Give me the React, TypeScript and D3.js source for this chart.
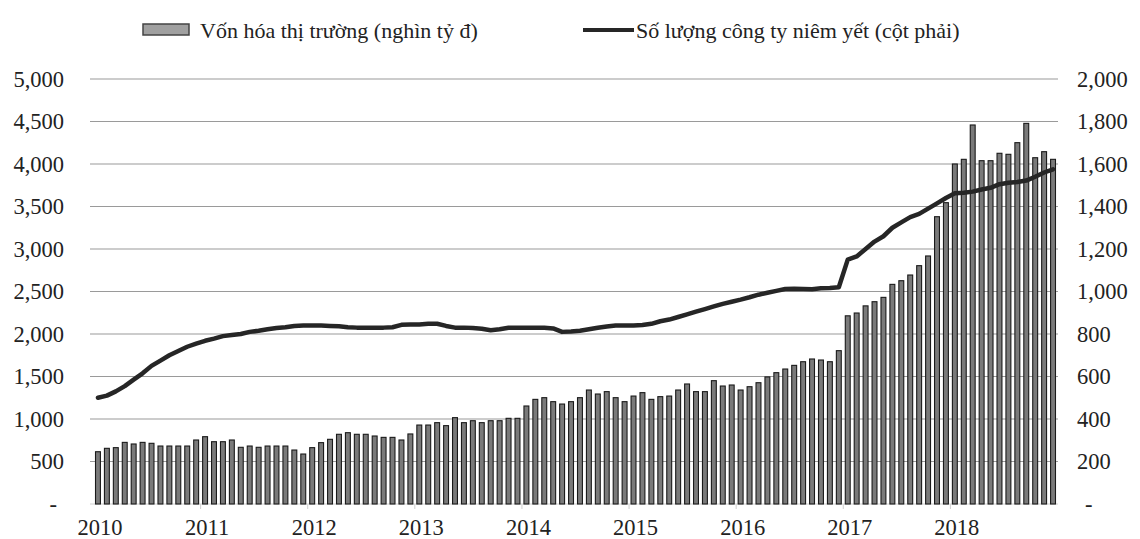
import React, { useEffect, useRef } from 'react'
import * as d3 from 'd3'

const years = ['2010', '2011', '2012', '2013', '2014', '2015', '2016', '2017', '2018']
const months = years.flatMap((y) => d3.range(1, 13).map((m) => `${y}-${m}`))

// Vốn hóa thị trường (nghìn tỷ đ), theo tháng
const marketCap = [
  615, 655, 663, 725, 706, 725, 714, 682, 682, 682, 682, 753,
  792, 733, 733, 753, 667, 682, 667, 682, 682, 682, 635, 588,
  663, 722, 761, 820, 839, 820, 820, 800, 784, 784, 753, 824,
  929, 929, 957, 922, 1016, 957, 980, 957, 980, 980, 1008, 1008,
  1153, 1231, 1251, 1204, 1176, 1204, 1251, 1341, 1294, 1322, 1251, 1204,
  1270, 1310, 1231, 1263, 1270, 1341, 1412, 1322, 1322, 1451, 1388, 1400,
  1341, 1380, 1427, 1495, 1545, 1588, 1631, 1674, 1706, 1694, 1674, 1804,
  2214, 2247, 2331, 2380, 2431, 2584, 2627, 2694, 2804, 2918, 3380, 3545,
  4000, 4055, 4459, 4039, 4039, 4126, 4114, 4251, 4478, 4074, 4145, 4055,
]

// Số lượng công ty niêm yết (cột phải)
const listedCompanies = [
  500, 510, 530, 555, 585, 615, 650, 675, 700, 720, 740, 755,
  768, 778, 790, 795, 800, 810, 815, 822, 828, 832, 838, 840,
  840, 840, 838, 836, 832, 830, 830, 830, 830, 832, 843, 845,
  845, 848, 848, 838, 830, 830, 828, 825, 818, 822, 829, 829,
  829, 829, 829, 826, 810, 812, 815, 822, 829, 835, 840, 840,
  840, 842, 848, 860, 868, 880, 892, 905, 917, 930, 942, 952,
  962, 973, 985, 994, 1003, 1012, 1013, 1012, 1011, 1015, 1016, 1020,
  1150, 1165, 1200, 1235, 1260, 1300, 1325, 1350, 1365, 1390, 1415, 1440,
  1462, 1465, 1470, 1480, 1488, 1505, 1512, 1515, 1522, 1540, 1560, 1575,
]

const leftTicks = [0, 500, 1000, 1500, 2000, 2500, 3000, 3500, 4000, 4500, 5000]
const rightTicks = [0, 200, 400, 600, 800, 1000, 1200, 1400, 1600, 1800, 2000]
const barLabel = 'Vốn hóa thị trường (nghìn tỷ đ)'
const lineLabel = 'Số lượng công ty niêm yết (cột phải)'

const App = () => {
  const svgRef = useRef<SVGSVGElement>(null)

  useEffect(() => {
    const width = 1140
    const height = 539
    const font = '"Liberation Serif", "Times New Roman", serif'
    const svg = d3.select(svgRef.current).attr('width', width).attr('height', height)
    svg.selectAll('*').remove()

    const x = d3.scaleBand().domain(months).range([93.5, 1057.5]).paddingInner(0.45).paddingOuter(0.225)
    const yLeft = d3.scaleLinear().domain([0, 5000]).range([504, 79])
    const yRight = d3.scaleLinear().domain([0, 2000]).range([504, 79])
    const cx = (m: string) => (x(m) as number) + x.bandwidth() / 2
    const fmt = (d: number) => (d === 0 ? '-' : d3.format(',')(d))

    svg.append('rect').attr('width', width).attr('height', height).attr('fill', '#fff')

    // lưới ngang
    svg
      .append('g')
      .selectAll('line')
      .data(leftTicks.slice(1))
      .enter()
      .append('line')
      .attr('x1', 90)
      .attr('x2', 1058)
      .attr('y1', (d) => yLeft(d))
      .attr('y2', (d) => yLeft(d))
      .attr('stroke', '#9a9a9a')
      .attr('stroke-width', 1.2)

    // trục hoành
    svg.append('line').attr('x1', 90).attr('x2', 1058).attr('y1', yLeft(0)).attr('y2', yLeft(0))
      .attr('stroke', '#d0d0d0').attr('stroke-width', 1)
    svg
      .append('g')
      .selectAll('line')
      .data(years.slice(1))
      .enter()
      .append('line')
      .attr('x1', (d) => (x(`${d}-1`) as number) - (x.step() - x.bandwidth()) / 2)
      .attr('x2', (d) => (x(`${d}-1`) as number) - (x.step() - x.bandwidth()) / 2)
      .attr('y1', yLeft(0))
      .attr('y2', yLeft(0) + 5)
      .attr('stroke', '#d0d0d0')

    // cột
    svg
      .append('g')
      .selectAll('rect')
      .data(marketCap)
      .enter()
      .append('rect')
      .attr('x', (d, i) => x(months[i]) as number)
      .attr('width', x.bandwidth())
      .attr('y', (d) => yLeft(d))
      .attr('height', (d) => yLeft(0) - yLeft(d))
      .attr('fill', '#7a7a7a')
      .attr('stroke', '#1a1a1a')
      .attr('stroke-width', 1.1)

    // đường
    const line = d3
      .line<number>()
      .x((d, i) => cx(months[i]))
      .y((d) => yRight(d))
    svg
      .append('path')
      .datum(listedCompanies)
      .attr('d', line)
      .attr('fill', 'none')
      .attr('stroke', '#262626')
      .attr('stroke-width', 4.5)
      .attr('stroke-linejoin', 'round')
      .attr('stroke-linecap', 'round')

    // nhãn trục trái
    svg
      .append('g')
      .selectAll('text')
      .data(leftTicks)
      .enter()
      .append('text')
      .attr('x', (d) => (d === 0 ? 57 : 64))
      .attr('y', (d) => yLeft(d))
      .attr('dy', '0.35em')
      .attr('text-anchor', 'end')
      .style('font-family', font)
      .style('font-size', '22.5px')
      .attr('fill', '#222')
      .text(fmt)

    // nhãn trục phải
    svg
      .append('g')
      .selectAll('text')
      .data(rightTicks)
      .enter()
      .append('text')
      .attr('x', (d) => (d === 0 ? 1085 : 1077))
      .attr('y', (d) => yRight(d))
      .attr('dy', '0.35em')
      .attr('text-anchor', 'start')
      .style('font-family', font)
      .style('font-size', '22.5px')
      .attr('fill', '#222')
      .text(fmt)

    // nhãn năm
    svg
      .append('g')
      .selectAll('text')
      .data(years)
      .enter()
      .append('text')
      .attr('x', (d) => cx(`${d}-1`) + 2)
      .attr('y', 535)
      .attr('text-anchor', 'middle')
      .style('font-family', font)
      .style('font-size', '22.5px')
      .attr('fill', '#222')
      .text((d) => d)

    // chú thích
    const legend = svg.append('g')
    legend.append('rect').attr('x', 143).attr('y', 24).attr('width', 46).attr('height', 11)
      .attr('fill', '#a0a0a0').attr('stroke', '#444').attr('stroke-width', 1.5)
    legend.append('text').attr('x', 200).attr('y', 30).attr('dy', '0.35em')
      .style('font-family', font).style('font-size', '22px').attr('fill', '#222').text(barLabel)
    legend.append('line').attr('x1', 583).attr('x2', 634).attr('y1', 30).attr('y2', 30)
      .attr('stroke', '#262626').attr('stroke-width', 4)
    legend.append('text').attr('x', 636).attr('y', 30).attr('dy', '0.35em')
      .style('font-family', font).style('font-size', '22px').attr('fill', '#222').text(lineLabel)
  }, [])

  return (
    <div style={{ position: 'absolute', left: 0, top: 0 }}>
      <svg ref={svgRef} style={{ display: 'block' }}></svg>
    </div>
  )
}

export default App
